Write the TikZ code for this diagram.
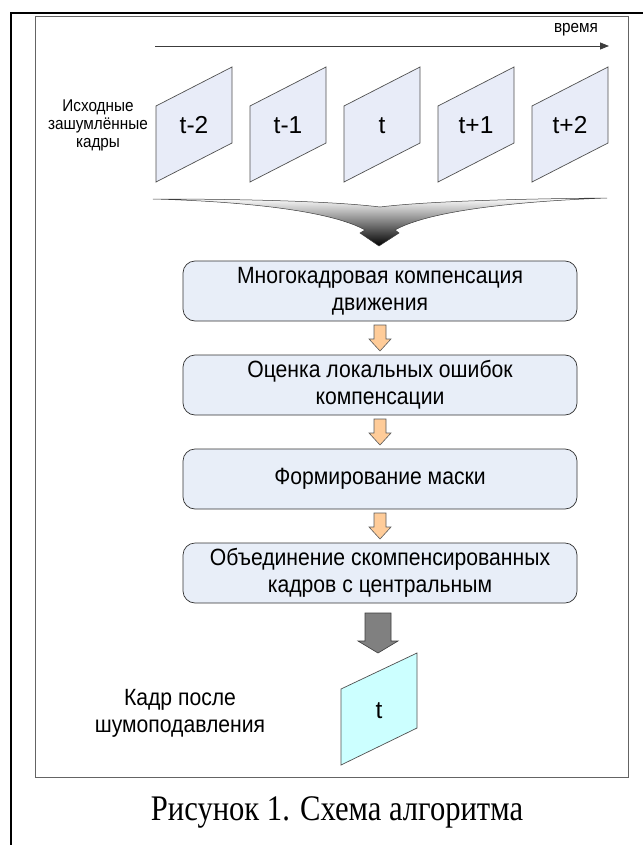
\documentclass[tikz,border=0pt]{standalone}
\usepackage{fontspec}
\setmainfont{Liberation Sans}[FakeStretch=0.9]
\newfontfamily\lblfont{Liberation Sans}
\newfontfamily\capfont{Liberation Serif}[FakeStretch=0.85]
\usetikzlibrary{arrows.meta,calc}
\begin{document}
\begin{tikzpicture}[x=1pt,y=-1pt,
  framefill/.style={fill={rgb,255:red,232;green,236;blue,248}, draw={rgb,255:red,80;green,80;blue,80}, line width=0.7pt},
  framelabel/.style={font=\lblfont\fontsize{24.5}{26}\selectfont, inner sep=0pt, anchor=base},
  sidelabel/.style={font=\fontsize{17}{18}\selectfont, align=center, inner sep=0pt},
  stepbox/.style={draw={rgb,255:red,50;green,50;blue,50}, line width=0.7pt, rounded corners=12pt,
     fill={rgb,255:red,232;green,238;blue,248}, minimum width=394pt, minimum height=60pt,
     align=center, font=\fontsize{23.5}{27}\selectfont, inner sep=0pt},
  orarrow/.pic={\draw[fill={rgb,255:red,255;green,204;blue,153}, draw={rgb,255:red,90;green,90;blue,90}, line width=0.6pt, line join=miter]
     (-6,-13) -- (6,-13) -- (6,1) -- (11,1) -- (0,13) -- (-11,1) -- (-6,1) -- cycle;},
  grayarrow/.pic={\draw[fill={rgb,255:red,128;green,128;blue,128}, draw={rgb,255:red,60;green,60;blue,60}, line width=0.6pt]
     (-13,-20) -- (13,-20) -- (13,8) -- (20,8) -- (0,20) -- (-20,8) -- (-13,8) -- cycle;}
]
\useasboundingbox (0,0) rectangle (642,845);
% outer frame (table cell)
\draw[line width=2.6pt] (11,850) -- (11,13) -- (650,13);
% inner frame
\draw[draw={rgb,255:red,100;green,100;blue,100}, line width=0.9pt] (35,16) rectangle (628,777);
% time axis
\coordinate (tstart) at (155,46);
\coordinate (tend) at (609,46);
\draw[-{Triangle[length=9pt,width=7pt]}, line width=0.8pt, draw={rgb,255:red,60;green,60;blue,60}] (tstart) -- (tend);
\node[font=\fontsize{17}{18}\selectfont, inner sep=0pt] (time) at (576,30) {время};
% input frames
\foreach \L/\lab/\nm in {156/t-2/f1, 250/t-1/f2, 344/t/f3, 438/t+1/f4, 532/t+2/f5}{
  \draw[framefill] (\L,106) -- (\L+76,67) -- (\L+76,143) -- (\L,182) -- cycle;
  \node[framelabel] (\nm) at (\L+38,134) {\lab};
}
\node[sidelabel] (inlabel) at (98,125) {Исходные\\зашумлённые\\кадры};
% merging arrow
\shade[top color=white, bottom color=black, draw={rgb,255:red,60;green,60;blue,60}, line width=0.5pt]
  (153,199) .. controls (260,199) and (340,202) .. (380,207)
  .. controls (420,202) and (500,199) .. (607,198)
  .. controls (500,202) and (425,213) .. (395,230)
  -- (399,233) -- (379,246) -- (360,233) -- (365,230)
  .. controls (335,213) and (260,202) .. (153,199) -- cycle;
% steps
\node[stepbox] (b1) at (380,291) {Многокадровая компенсация\\движения};
\node[stepbox] (b2) at (380,385) {Оценка локальных ошибок\\компенсации};
\node[stepbox] (b3) at (380,479) {Формирование маски};
\node[stepbox] (b4) at (380,573) {Объединение скомпенсированных\\кадров с центральным};
\path ($(b1.south)!0.5!(b2.north)$) pic (a1) {orarrow};
\path ($(b2.south)!0.5!(b3.north)$) pic (a2) {orarrow};
\path ($(b3.south)!0.5!(b4.north)$) pic (a3) {orarrow};
% output
\path (378,633) pic (a4) {grayarrow};
\draw[fill={rgb,255:red,204;green,255;blue,255}, draw={rgb,255:red,80;green,80;blue,80}, line width=0.7pt]
  (341,689) -- (417,653) -- (417,728) -- (341,765) -- cycle;
\node[framelabel] (out) at (379,718) {t};
\node[font=\fontsize{23.5}{27}\selectfont, align=center, inner sep=0pt] (outlabel) at (180,713) {Кадр после\\шумоподавления};
% caption
\node[font=\capfont\fontsize{36}{40}\selectfont, inner sep=0pt] (cap) at (337,812) {Рисунок 1. Схема алгоритма};
\end{tikzpicture}
\end{document}
